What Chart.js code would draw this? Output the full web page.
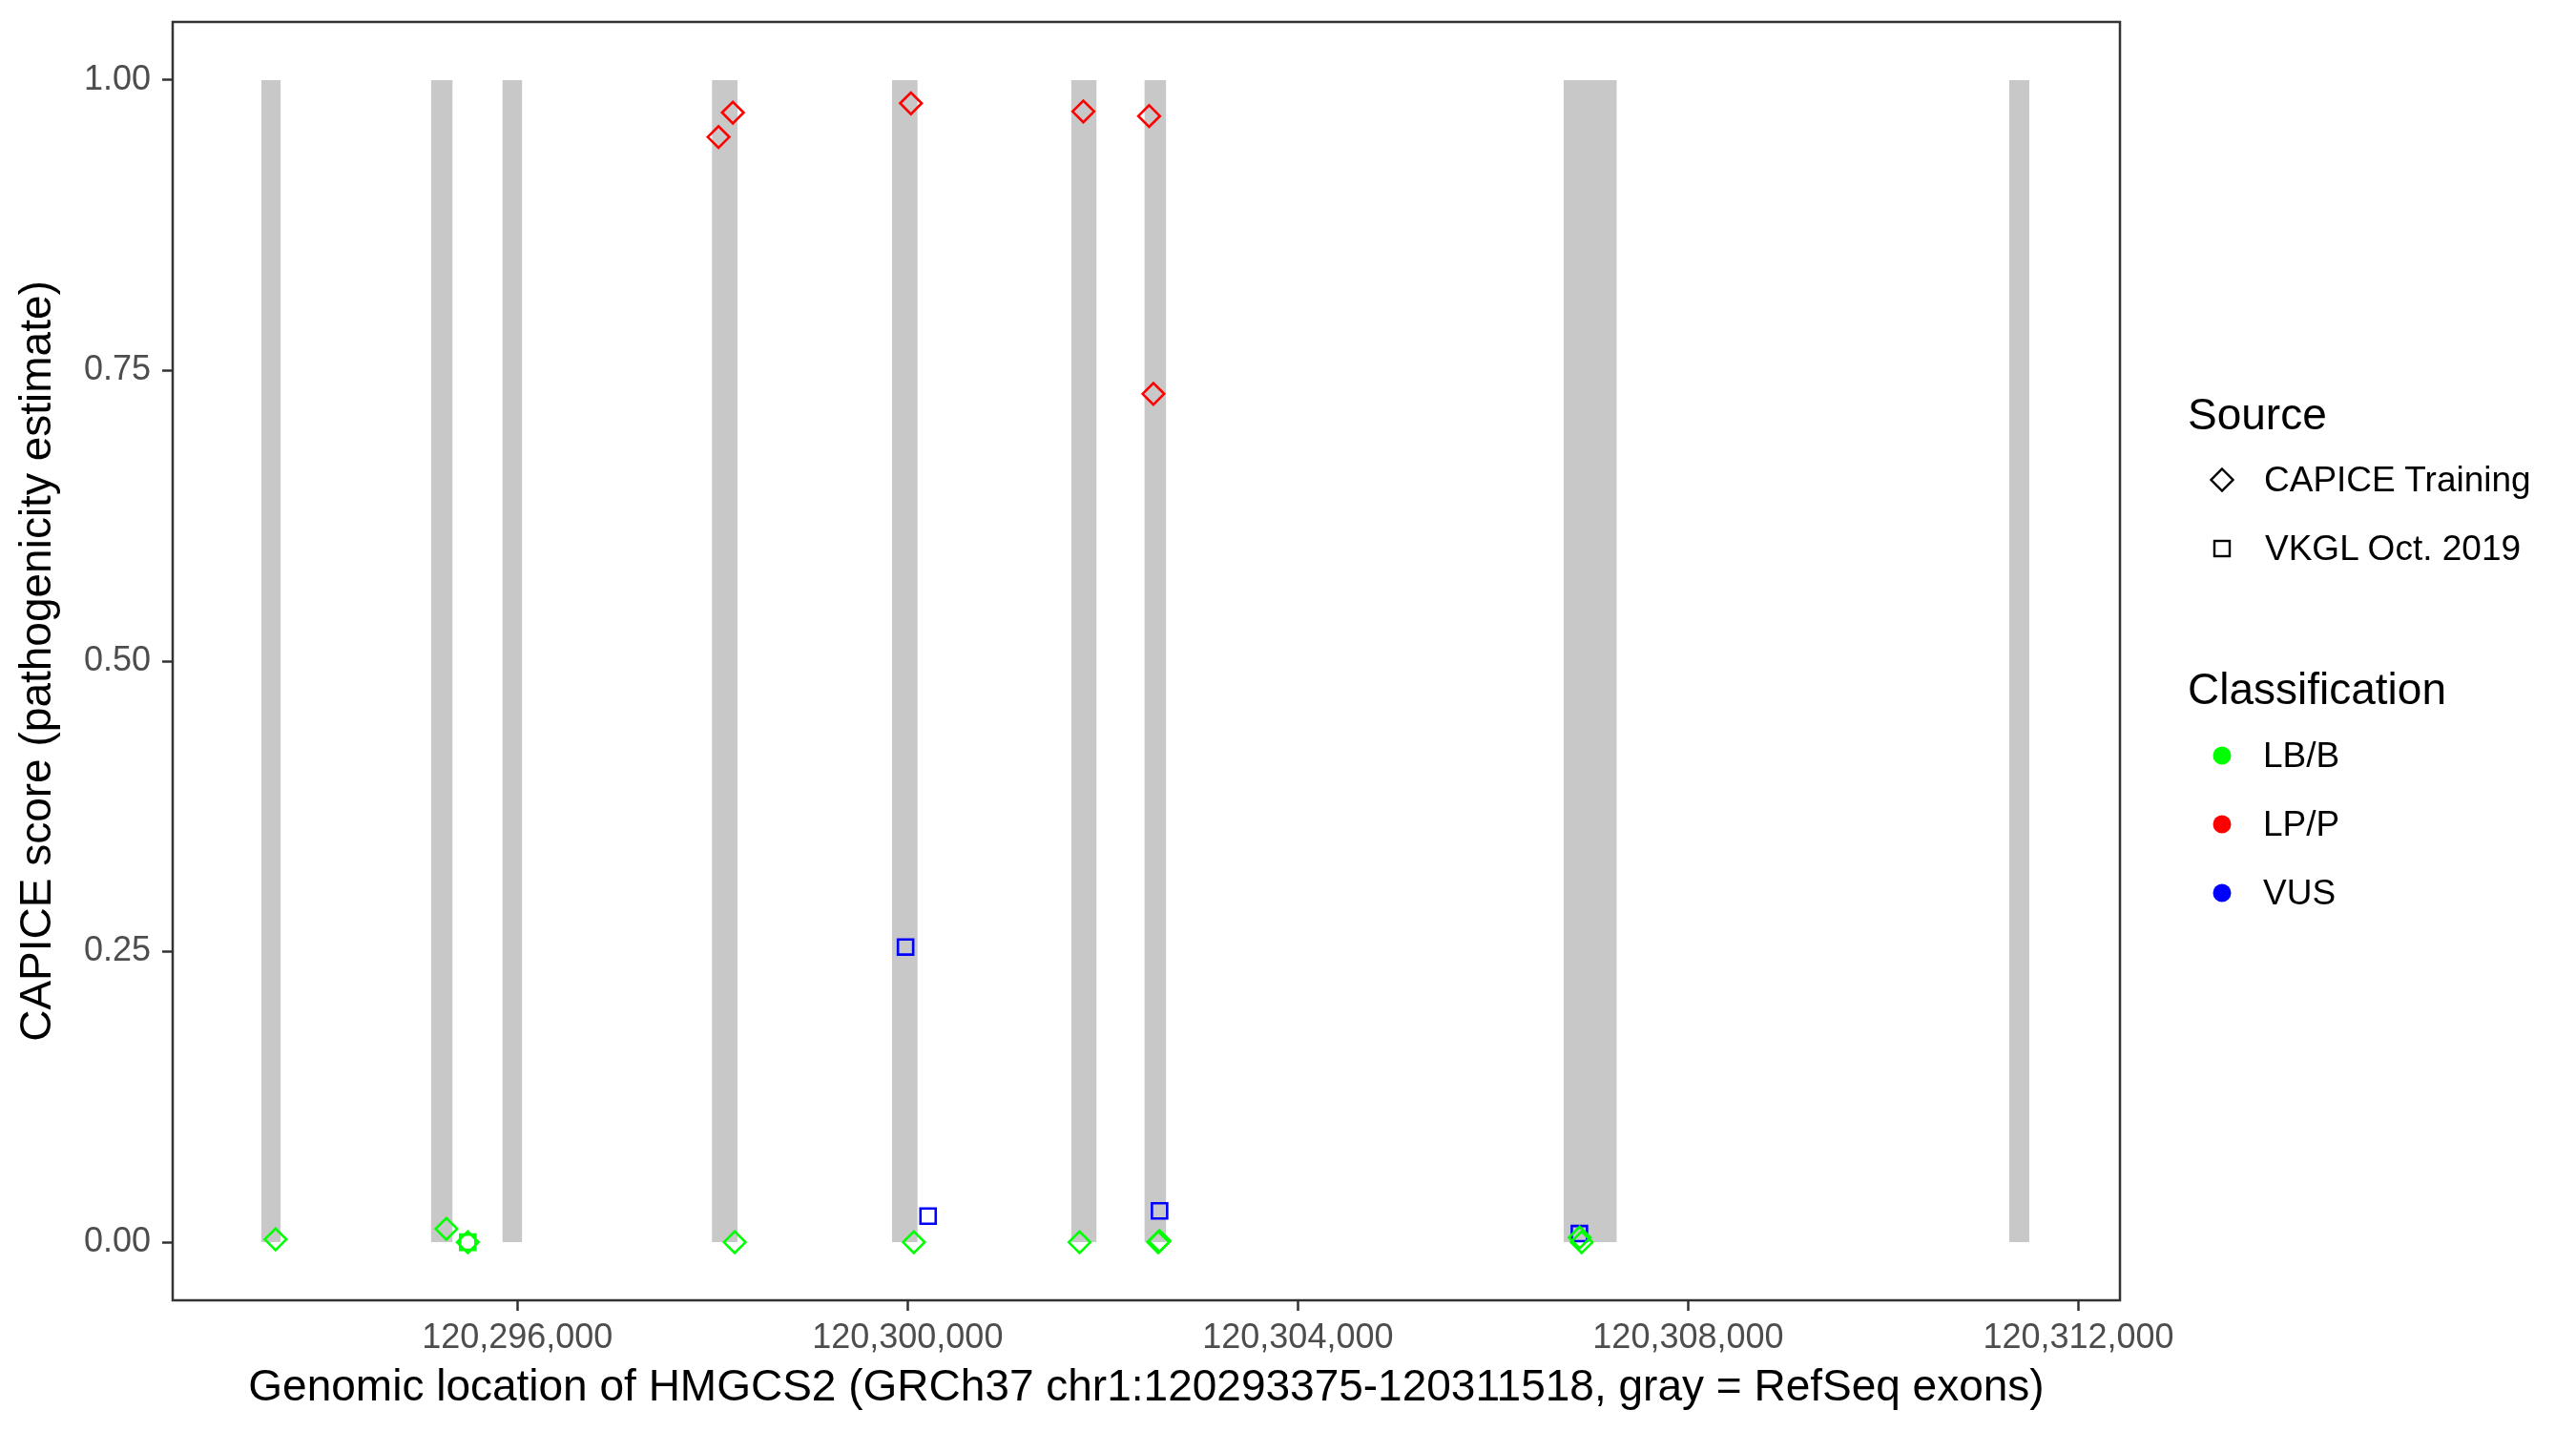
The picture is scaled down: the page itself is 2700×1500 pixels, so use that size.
<!DOCTYPE html>
<html>
<head>
<meta charset="utf-8">
<script src="https://cdn.jsdelivr.net/npm/chart.js@4.4.1/dist/chart.umd.min.js"></script>
<style>
  html, body { margin: 0; padding: 0; background: #ffffff; }
  #wrap { position: relative; width: 2700px; height: 1500px; background: #ffffff; font-family: 'Liberation Sans', Arial, sans-serif; }
  #c { position: absolute; left: 0; top: 0; }
  .lg { position: absolute; white-space: nowrap; color: #000000; }
  .lt { font-size: 46px; line-height: 54px; }
  .ll { font-size: 37px; line-height: 44px; }
  .key { position: absolute; }
</style>
</head>
<body>
<div id="wrap">
  <canvas id="c" width="2700" height="1500"></canvas>
  <div class="lg lt" style="left:2293px; top:407px;">Source</div>
  <svg class="key" style="left:2315px; top:489px;" width="28" height="28"><polygon points="14,2.5 25.5,14 14,25.5 2.5,14" fill="none" stroke="#000" stroke-width="2.4"/></svg>
  <div class="lg ll" style="left:2373px; top:481px;">CAPICE Training</div>
  <svg class="key" style="left:2319px; top:565px;" width="20" height="20"><rect x="2" y="2" width="16" height="16" fill="none" stroke="#000" stroke-width="2.4"/></svg>
  <div class="lg ll" style="left:2374px; top:553px;">VKGL Oct. 2019</div>
  <div class="lg lt" style="left:2293px; top:695px;">Classification</div>
  <svg class="key" style="left:2319px; top:782px;" width="20" height="20"><circle cx="10" cy="10" r="9.5" fill="#00ff00"/></svg>
  <div class="lg ll" style="left:2372px; top:770px;">LB/B</div>
  <svg class="key" style="left:2319px; top:854px;" width="20" height="20"><circle cx="10" cy="10" r="9.5" fill="#ff0000"/></svg>
  <div class="lg ll" style="left:2372px; top:842px;">LP/P</div>
  <svg class="key" style="left:2319px; top:926px;" width="20" height="20"><circle cx="10" cy="10" r="9.5" fill="#0000ff"/></svg>
  <div class="lg ll" style="left:2372px; top:914px;">VUS</div>
</div>
<script>
// ---- Data ----
const geneStart = 120293375;
const geneEnd = 120311518;

const exonStarts = [120293376, 120295114, 120295846, 120297994, 120299839, 120301675, 120302426, 120306722, 120311291];
const exonEnds   = [120293576, 120295338, 120296051, 120298257, 120300103, 120301938, 120302651, 120307269, 120311496];

// CAPICE Training, LB/B
const capiceBenignPos   = [120293522, 120295273, 120295492, 120298228, 120300064, 120301762, 120302568, 120302582, 120306888, 120306908];
const capiceBenignScore = [0.0025, 0.0115, 0.0, 0.0, 0.0, 0.0, 0.0, 0.001, 0.004, 0.0];

// CAPICE Training, LP/P
const capicePathoPos   = [120298062, 120298209, 120300034, 120301801, 120302475, 120302519];
const capicePathoScore = [0.951, 0.972, 0.980, 0.973, 0.969, 0.730];

// VKGL Oct. 2019, LB/B
const vkglBenignPos   = [120295492];
const vkglBenignScore = [0.0];

// VKGL Oct. 2019, VUS
const vkglVusPos   = [120299979, 120300210, 120302582, 120306885];
const vkglVusScore = [0.254, 0.0224, 0.027, 0.0074];

const xTicks = [120296000, 120300000, 120304000, 120308000, 120312000];
const yTicks = [0, 0.25, 0.5, 0.75, 1.0];

const xTitle = 'Genomic location of HMGCS2 (GRCh37 chr1:120293375-120311518, gray = RefSeq exons)';
const yTitle = 'CAPICE score (pathogenicity estimate)';

// ---- Build ----
const pad = (geneEnd - geneStart) * 0.05;
const toXY = (xs, ys) => xs.map((x, i) => ({ x: x, y: ys[i] }));
const FONT = "'Liberation Sans', Arial, sans-serif";

const exonDatasets = exonStarts.map((s, i) => ({
  type: 'line',
  data: [{ x: s, y: 1 }, { x: exonEnds[i], y: 1 }],
  fill: { value: 0 },
  backgroundColor: '#c8c8c8',
  borderWidth: 0,
  borderColor: 'rgba(0,0,0,0)',
  pointRadius: 0,
  order: 10
}));

function pts(xs, ys, color, style) {
  return {
    type: 'line',
    showLine: false,
    data: toXY(xs, ys),
    pointStyle: style,
    pointRadius: 11.3,
    pointBorderWidth: 2.6,
    pointBorderColor: color,
    pointBackgroundColor: 'rgba(0,0,0,0)',
    borderColor: color,
    backgroundColor: 'rgba(0,0,0,0)',
    order: 1
  };
}

const pointDatasets = [
  pts(capiceBenignPos, capiceBenignScore, '#00ff00', 'rectRot'),
  pts(vkglBenignPos, vkglBenignScore, '#00ff00', 'rect'),
  pts(capicePathoPos, capicePathoScore, '#ff0000', 'rectRot'),
  pts(vkglVusPos, vkglVusScore, '#0000ff', 'rect')
];

const panelBorder = {
  id: 'panelBorder',
  afterDatasetsDraw(chart) {
    const a = chart.chartArea, ctx = chart.ctx;
    ctx.save();
    ctx.strokeStyle = '#333333';
    ctx.lineWidth = 2.5;
    ctx.strokeRect(a.left, a.top, a.right - a.left, a.bottom - a.top);
    ctx.restore();
  }
};

new Chart(document.getElementById('c'), {
  type: 'line',
  data: { datasets: pointDatasets.concat(exonDatasets) },
  plugins: [panelBorder],
  options: {
    responsive: false,
    animation: false,
    devicePixelRatio: 1,
    layout: { padding: { top: 23, right: 478, left: 0, bottom: 0 } },
    plugins: { legend: { display: false }, tooltip: { enabled: false } },
    scales: {
      x: {
        type: 'linear',
        min: geneStart - pad,
        max: geneEnd + pad,
        afterBuildTicks(scale) { scale.ticks = xTicks.map(v => ({ value: v })); },
        afterFit(scale) { scale.height = 137; scale.paddingLeft = 0; scale.paddingRight = 0; },
        grid: { display: true, drawOnChartArea: false, drawTicks: true, tickLength: 11, tickColor: '#333333', tickWidth: 2.5 },
        border: { display: false },
        ticks: {
          autoSkip: false, maxRotation: 0, minRotation: 0, padding: 7,
          color: '#4d4d4d', font: { family: FONT, size: 36 },
          callback: (v) => Number(v).toLocaleString('en-US')
        },
        title: { display: true, text: xTitle, color: '#000000', font: { family: FONT, size: 46 }, padding: { top: 0, bottom: 17 } }
      },
      y: {
        type: 'linear',
        min: -0.05,
        max: 1.05,
        afterBuildTicks(scale) { scale.ticks = yTicks.map(v => ({ value: v })); },
        afterFit(scale) { scale.width = 181; scale.paddingTop = 0; scale.paddingBottom = 0; },
        grid: { display: true, drawOnChartArea: false, drawTicks: true, tickLength: 11, tickColor: '#333333', tickWidth: 2.5 },
        border: { display: false },
        ticks: {
          padding: 12,
          color: '#4d4d4d', font: { family: FONT, size: 36 },
          callback: (v) => Number(v).toFixed(2)
        },
        title: { display: true, text: yTitle, color: '#000000', font: { family: FONT, size: 46 }, padding: { top: 13, bottom: 0 } }
      }
    }
  }
});
</script>
</body>
</html>
